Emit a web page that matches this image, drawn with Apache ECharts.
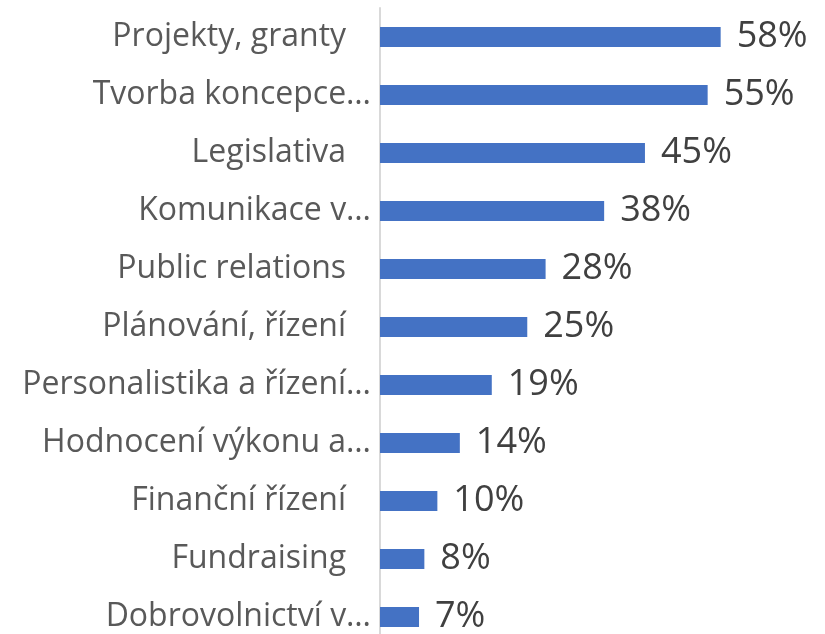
<!DOCTYPE html>
<html>
<head>
<meta charset="utf-8">
<script src="https://cdn.jsdelivr.net/npm/echarts@6/dist/echarts.min.js"></script>
<style>
    html, body { margin: 0; padding: 0; background: #fff; }
    #main { width: 825px; height: 634px; }
</style>
</head>
<body>
<div id="main"></div>
<script type="text/javascript">
    // kategorie odshora dolu
    var categories = [
        'Projekty, granty   ',
        'Tvorba koncepce…',
        'Legislativa   ',
        'Komunikace v…',
        'Public relations   ',
        'Plánování, řízení   ',
        'Personalistika a řízení…',
        'Hodnocení výkonu a…',
        'Finanční řízení   ',
        'Fundraising   ',
        'Dobrovolnictví v…'
    ];
    // delky sloupcu (v %)
    var values = [57.6, 55.4, 44.8, 37.9, 28.0, 24.9, 18.9, 13.5, 9.7, 7.5, 6.6];

    var myChart = echarts.init(document.getElementById('main'));
    var option = {
        animation: false,
        grid: {
            left: 380,
            right: 31,
            top: 8,
            height: 638,
            outerBoundsMode: 'none'
        },
        xAxis: {
            type: 'value',
            min: 0,
            max: 70,
            show: false
        },
        yAxis: {
            type: 'category',
            inverse: true,
            data: categories,
            axisLine: {
                show: true,
                lineStyle: { color: '#d9d9d9', width: 2 }
            },
            axisTick: { show: false },
            axisLabel: {
                margin: 9,
                fontFamily: 'Open Sans',
                fontSize: 32,
                color: '#595959'
            }
        },
        series: [
            {
                type: 'bar',
                data: values,
                barWidth: 20,
                itemStyle: { color: '#4472c4' },
                label: {
                    show: true,
                    position: 'right',
                    distance: 16,
                    formatter: function (p) {
                        return Math.round(p.value) + '%';
                    },
                    fontFamily: 'Open Sans',
                    fontSize: 36,
                    color: '#404040'
                }
            }
        ]
    };

    myChart.setOption(option);
</script>
</body>
</html>
